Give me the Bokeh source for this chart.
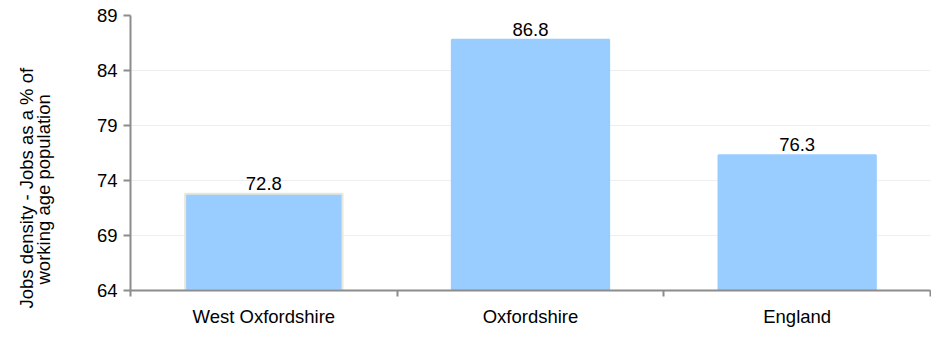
from bokeh.plotting import figure
from bokeh.models import ColumnDataSource, FixedTicker, Range1d, LabelSet, Title
from bokeh.core.properties import value
from bokeh.embed import file_html
from bokeh.resources import INLINE

categories = ["West Oxfordshire", "Oxfordshire", "England"]
values = [72.8, 86.8, 76.3]
y_ticks = [64, 69, 74, 79, 84, 89]
y_label_lines = ["Jobs density - Jobs as a % of", "working age population"]

xs = [i + 0.5 for i in range(len(categories))]
src = ColumnDataSource(dict(
    x=xs, top=values, label=[f"{v:.1f}" for v in values],
    line=["#e6e6dc", "#99CCFF", "#99CCFF"],
))

FONT = "Liberation Sans"
FS = "18.5px"

p = figure(width=931, height=329, output_backend="svg", toolbar_location=None,
           x_range=Range1d(0, len(categories)), y_range=Range1d(64, 89),
           min_border_left=130, min_border_right=1, min_border_top=15, min_border_bottom=38)
p.outline_line_color = None
p.background_fill_color = "white"

p.vbar(x="x", top="top", bottom=64, width=0.59, source=src,
       fill_color="#99CCFF", line_color="line", line_width=2)

labels = LabelSet(x="x", y="top", text="label", source=src, text_align="center",
                  text_baseline="bottom", y_offset=4, text_font=value(FONT),
                  text_font_size=FS, text_color="#000000")
p.add_layout(labels)

# x axis
xa = p.xaxis[0]
xa.ticker = FixedTicker(ticks=xs, minor_ticks=list(range(len(categories) + 1)))
xa.major_label_overrides = {x: c for x, c in zip(xs, categories)}
xa.major_tick_line_color = None
xa.major_tick_out = 0
xa.minor_tick_out = 6
xa.minor_tick_in = 0
xa.minor_tick_line_color = "#8c8c8c"
xa.minor_tick_line_width = 2
xa.axis_line_color = "#8c8c8c"
xa.axis_line_width = 2
xa.major_label_text_font = FONT
xa.major_label_text_font_size = FS
xa.major_label_text_color = "#000000"
xa.major_label_standoff = 9

ya = p.yaxis[0]
ya.ticker = FixedTicker(ticks=y_ticks, minor_ticks=[])
ya.major_tick_out = 7
ya.major_tick_in = 0
ya.major_tick_line_color = "#8c8c8c"
ya.major_tick_line_width = 2
ya.axis_line_color = "#8c8c8c"
ya.axis_line_width = 2
ya.major_label_text_font = FONT
ya.major_label_text_font_size = FS
ya.major_label_text_color = "#000000"
ya.major_label_standoff = 6

p.xgrid.grid_line_color = None
p.ygrid.grid_line_color = "#eeeeee"
p.ygrid.grid_line_width = 1

# y axis title, two lines (second line nearest the axis); a blank spacer first
spacer = Title(text=" ", standoff=17, text_font=FONT, text_font_size=FS,
               text_color="#000000")
t2 = Title(text=y_label_lines[1], align="left", offset=6, standoff=0,
           text_font=FONT, text_font_size=FS, text_font_style="normal",
           text_color="#000000")
t1 = Title(text=y_label_lines[0], align="left", offset=-18, standoff=-12,
           text_font=FONT, text_font_size=FS, text_font_style="normal",
           text_color="#000000")
p.add_layout(spacer, "left")
p.add_layout(t2, "left")
p.add_layout(t1, "left")

open("out.html", "w").write(file_html(p, INLINE))
